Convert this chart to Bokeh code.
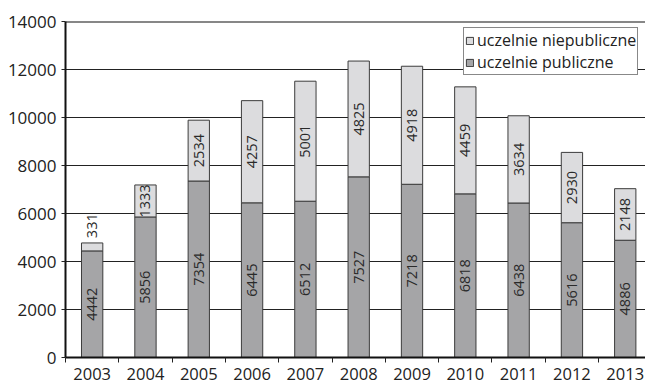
import math
from bokeh.plotting import figure
from bokeh.models import (ColumnDataSource, Range1d, FixedTicker, Legend, LegendItem, Span)
from bokeh.embed import file_html
from bokeh.resources import INLINE
from bokeh.core.properties import value

years = ["2003", "2004", "2005", "2006", "2007", "2008", "2009", "2010", "2011", "2012", "2013"]
publiczne = [4442, 5856, 7354, 6445, 6512, 7527, 7218, 6818, 6438, 5616, 4886]
niepubliczne = [331, 1333, 2534, 4257, 5001, 4825, 4918, 4459, 3634, 2930, 2148]
y_ticks = [0, 2000, 4000, 6000, 8000, 10000, 12000, 14000]

FONT = "Open Sans"
C_PUB = "#a5a5a7"
C_NIE = "#dcdcde"
C_EDGE = "#3c3c3c"

xs = [i + 0.5 for i in range(len(years))]
totals = [a + b for a, b in zip(publiczne, niepubliczne)]

src = ColumnDataSource(dict(x=xs, pub=publiczne, nie=niepubliczne, tot=totals))

p = figure(width=645, height=384, output_backend="svg", toolbar_location=None,
           x_range=Range1d(0, 10.88), y_range=Range1d(0, 14000),
           min_border_left=65, min_border_right=0, min_border_top=21, min_border_bottom=27)

p.background_fill_color = "white"
p.border_fill_color = "white"
p.outline_line_color = None

r_pub = p.vbar(x="x", bottom=0, top="pub", width=0.4, source=src,
               fill_color=C_PUB, line_color=C_EDGE, line_width=1)
r_nie = p.vbar(x="x", bottom="pub", top="tot", width=0.4, source=src,
               fill_color=C_NIE, line_color=C_EDGE, line_width=1)

# axes
p.xaxis.ticker = FixedTicker(ticks=xs, minor_ticks=list(range(0, len(years) + 1)))
p.xaxis.major_label_overrides = {x: y for x, y in zip(xs, years)}
p.xaxis.major_tick_line_color = None
p.xaxis.minor_tick_out = 5
p.xaxis.minor_tick_in = 0
p.xaxis.minor_tick_line_color = "#222222"
p.xaxis.axis_line_width = 2
p.xaxis.axis_line_color = "#111111"
p.xaxis.major_label_text_font = FONT
p.xaxis.major_label_text_font_size = "16.5px"
p.xaxis.major_label_text_color = "#222222"
p.xaxis.major_label_standoff = 4

p.yaxis.ticker = FixedTicker(ticks=y_ticks)
p.yaxis.minor_tick_line_color = None
p.yaxis.major_tick_out = 4
p.yaxis.major_tick_in = 0
p.yaxis.major_tick_line_color = "#222222"
p.yaxis.axis_line_width = 2
p.yaxis.axis_line_color = "#111111"
p.yaxis.major_label_text_font = FONT
p.yaxis.major_label_text_font_size = "17px"
p.yaxis.major_label_text_color = "#222222"
p.yaxis.major_label_standoff = 5

p.xgrid.grid_line_color = None
p.ygrid.ticker = FixedTicker(ticks=y_ticks)
p.ygrid.grid_line_color = "#222222"
p.ygrid.grid_line_width = 1

p.add_layout(Span(location=14000, dimension="width", line_color="#111111", line_width=2))

# labels
pub_lab = ColumnDataSource(dict(x=xs, y=[v / 2 for v in publiczne], t=[str(v) for v in publiczne]))
p.text(x="x", y="y", text="t", source=pub_lab, angle=math.pi / 2,
       text_align="center", text_baseline="middle", text_font=value(FONT),
       text_font_size="14.5px", text_color="#2a2a2a")

in_x, in_y, in_t, out_x, out_y, out_t = [], [], [], [], [], []
for x, a, b in zip(xs, publiczne, niepubliczne):
    if b < 600:
        out_x.append(x); out_y.append(a + b + 200); out_t.append(str(b))
    else:
        in_x.append(x); in_y.append(a + b / 2); in_t.append(str(b))
p.text(x=in_x, y=in_y, text=in_t, angle=math.pi / 2,
       text_align="center", text_baseline="middle", text_font=value(FONT),
       text_font_size="14.5px", text_color="#2a2a2a")
p.text(x=out_x, y=out_y, text=out_t, angle=math.pi / 2,
       text_align="left", text_baseline="middle", text_font=value(FONT),
       text_font_size="14.5px", text_color="#2a2a2a")

legend = Legend(items=[LegendItem(label="uczelnie niepubliczne", renderers=[r_nie]),
                       LegendItem(label="uczelnie publiczne", renderers=[r_pub])],
                location=(398, 282))
legend.label_text_font = FONT
legend.label_text_font_size = "16px"
legend.label_text_color = "#222222"
legend.glyph_width = 9
legend.glyph_height = 9
legend.label_height = 16
legend.label_standoff = 3
legend.spacing = 0
legend.padding = 1
legend.margin = 0
legend.border_line_color = "#111111"
legend.border_line_width = 1
legend.background_fill_alpha = 1
p.add_layout(legend, "center")

open("out.html", "w").write(file_html(p, INLINE))
